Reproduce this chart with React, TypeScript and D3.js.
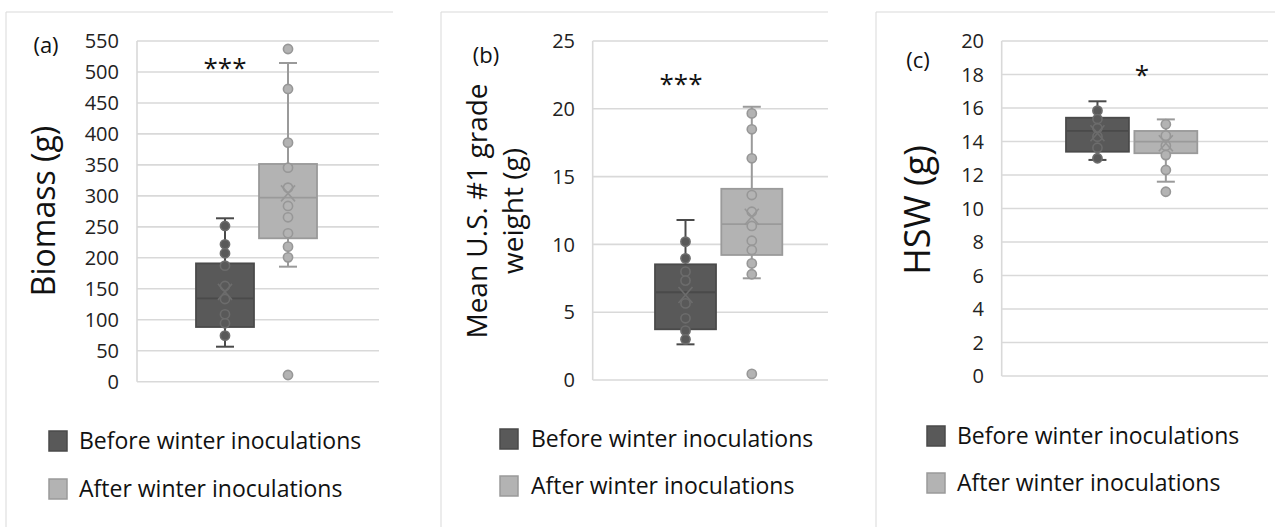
import React from "react";
import * as d3 from "d3";

const groups = ["Before winter inoculations", "After winter inoculations"];

// Box summaries per group: [lower whisker, Q1, median, Q3, upper whisker]
const biomassBox = [
  [56.5, 88.3, 134.6, 191, 263.8],
  [185.7, 231.5, 297, 351.5, 514.5],
];
const biomassMean = [145, 304];
const biomassPoints = [
  [251.4, 221.8, 207.3, 187.3, 154.5, 133.5, 108.8, 94.3, 74.3],
  [537.1, 472.6, 385.9, 345.5, 313.2, 283.7, 265.4, 239.6, 218.0, 200.8, 10.8],
];
const biomassTicks = d3.range(0, 551, 50);

const gradeBox = [
  [2.63, 3.74, 6.47, 8.53, 11.8],
  [7.5, 9.22, 11.5, 14.1, 20.15],
];
const gradeMean = [6.27, 12.04];
const gradePoints = [
  [10.2, 8.97, 7.99, 7.33, 5.65, 4.55, 3.64, 3.0],
  [19.66, 18.49, 16.35, 13.64, 12.41, 11.36, 10.27, 9.59, 8.6, 7.8, 0.45],
];
const gradeTicks = d3.range(0, 26, 5);

const hswBox = [
  [12.9, 13.39, 14.63, 15.42, 16.4],
  [11.6, 13.3, 13.99, 14.63, 15.32],
];
const hswMean = [14.49, 13.9];
const hswPoints = [
  [15.84, 15.34, 14.79, 14.29, 13.63, 13.0],
  [15.03, 14.35, 13.75, 13.19, 12.3, 11.0],
];
const hswTicks = d3.range(0, 21, 2);

const FONT = "'Open Sans', 'DejaVu Sans', sans-serif";
const fills = ["#595959", "#b3b3b3"];
const edges = ["#4a4a4a", "#9a9a9a"];
const rings = ["#6c6c6c", "#979797"];

const panels = [
  {
    label: "(a)", title: ["Biomass (g)"], titleSize: 32, titleX: [55], titleY: 211,
    labelX: 46, labelY: 45, stars: "***", starX: 225, starY: 63,
    box: biomassBox, mean: biomassMean, points: biomassPoints, ticks: biomassTicks, max: 550,
    frameX: 6, frameRight: 393, plotL: 137, plotR: 379, top: 41, bottom: 381.7,
    groupL: 196, groupR: 317, tickX: 119,
    legendX: 49, legendTextX: 79, legendY: [441, 489],
  },
  {
    label: "(b)", title: ["Mean U.S. #1 grade", "weight (g)"], titleSize: 28, titleX: [487, 523], titleY: 211,
    labelX: 486, labelY: 55, stars: "***", starX: 681, starY: 79,
    box: gradeBox, mean: gradeMean, points: gradePoints, ticks: gradeTicks, max: 25,
    frameX: 441, frameRight: 828, plotL: 592.7, plotR: 828, top: 41, bottom: 380,
    groupL: 655, groupR: 782.3, tickX: 575,
    legendX: 500, legendTextX: 531, legendY: [439, 486],
  },
  {
    label: "(c)", title: ["HSW (g)"], titleSize: 36, titleX: [930], titleY: 210,
    labelX: 918, labelY: 60, stars: "*", starX: 1142, starY: 70,
    box: hswBox, mean: hswMean, points: hswPoints, ticks: hswTicks, max: 20,
    frameX: 876, frameRight: 1275, plotL: 1001.7, plotR: 1268, top: 41, bottom: 376,
    groupL: 1066, groupR: 1197.3, tickX: 984,
    legendX: 927, legendTextX: 957, legendY: [436, 483],
  },
];

function Panel({ p }: { p: any }) {
  const y = d3.scaleLinear().domain([0, p.max]).range([p.bottom, p.top]);
  const x = d3.scaleBand<string>().domain(groups).range([p.groupL, p.groupR]).paddingInner(0.08);
  const bw = x.bandwidth();
  const cap = 9;
  return (
    <g>
      {/* frame edges */}
      <line x1={p.frameX} x2={p.frameRight} y1={12} y2={12} stroke="#d9d9d9" strokeWidth={1} />
      <line x1={p.frameX} x2={p.frameX} y1={12} y2={540} stroke="#d9d9d9" strokeWidth={1} />
      {/* grid */}
      {p.ticks.map((t: number) => (
        <g key={t}>
          <line x1={p.plotL} x2={p.plotR} y1={y(t)} y2={y(t)} stroke="#d9d9d9" strokeWidth={1.6} />
          <text x={p.tickX} y={y(t)} dy="0.36em" textAnchor="end" fontSize={20} fill="#222">
            {t}
          </text>
        </g>
      ))}
      <line x1={p.plotL} x2={p.plotL} y1={p.top} y2={p.bottom} stroke="#d9d9d9" strokeWidth={1.6} />
      {/* axis title */}
      {p.title.map((line: string, i: number) => (
        <text
          key={i}
          transform={`translate(${p.titleX[i]},${p.titleY}) rotate(-90)`}
          textAnchor="middle"
          fontSize={p.titleSize}
          fill="#111"
        >
          {line}
        </text>
      ))}
      <text x={p.labelX} y={p.labelY} dy="0.36em" textAnchor="middle" fontSize={22} fill="#111">
        {p.label}
      </text>
      <text x={p.starX} y={p.starY} dy="0.55em" textAnchor="middle" fontSize={26} fill="#111">
        {p.stars}
      </text>
      {/* boxes */}
      {groups.map((g, i) => {
        const [lo, q1, med, q3, hi] = p.box[i];
        const x0 = x(g)!;
        const cx = x0 + bw / 2;
        const my = y(p.mean[i]);
        return (
          <g key={g}>
            <line x1={cx} x2={cx} y1={y(q3)} y2={y(hi)} stroke={edges[i]} strokeWidth={2} />
            <line x1={cx} x2={cx} y1={y(q1)} y2={y(lo)} stroke={edges[i]} strokeWidth={2} />
            <line x1={cx - cap} x2={cx + cap} y1={y(hi)} y2={y(hi)} stroke={edges[i]} strokeWidth={2} />
            <line x1={cx - cap} x2={cx + cap} y1={y(lo)} y2={y(lo)} stroke={edges[i]} strokeWidth={2} />
            <rect x={x0} y={y(q3)} width={bw} height={y(q1) - y(q3)} fill={fills[i]} stroke={edges[i]} strokeWidth={1.8} />
            <line x1={x0} x2={x0 + bw} y1={y(med)} y2={y(med)} stroke={edges[i]} strokeWidth={1.8} />
            {p.points[i].map((v: number, k: number) => (
              <circle key={k} cx={cx} cy={y(v)} r={4.6} fill={fills[i]} stroke={rings[i]} strokeWidth={1.6} />
            ))}
            <path
              d={`M${cx - 7},${my - 8}L${cx + 7},${my + 8}M${cx - 7},${my + 8}L${cx + 7},${my - 8}`}
              stroke={rings[i]}
              strokeWidth={1.6}
              fill="none"
            />
          </g>
        );
      })}
      {/* legend */}
      {groups.map((g, i) => (
        <g key={g}>
          <rect x={p.legendX} y={p.legendY[i] - 10} width={18} height={20} fill={fills[i]} stroke={edges[i]} strokeWidth={1.5} />
          <text x={p.legendTextX} y={p.legendY[i]} dy="0.36em" fontSize={23} fill="#111">
            {g}
          </text>
        </g>
      ))}
    </g>
  );
}

export default function App() {
  return (
    <svg
      width={1275}
      height={527}
      style={{ position: "absolute", left: 0, top: 0, background: "#fff" }}
      fontFamily={FONT}
    >
      <rect width={1275} height={527} fill="#fff" />
      {panels.map((p) => (
        <Panel key={p.label} p={p} />
      ))}
    </svg>
  );
}
